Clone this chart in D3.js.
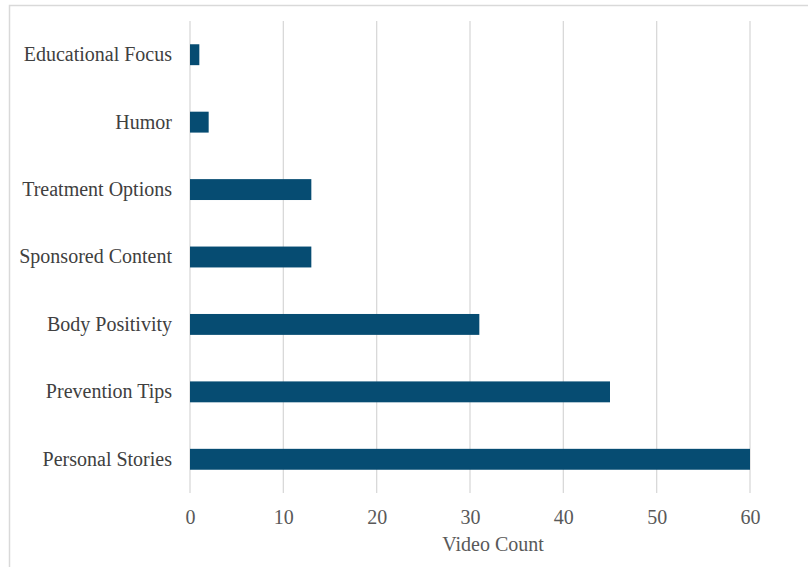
<!DOCTYPE html>
<html><head><meta charset="utf-8">
<script src="https://cdn.jsdelivr.net/npm/d3@7"></script>
<style>body{margin:0;background:#fff}svg{display:block}svg text{font-family:"Liberation Serif","Times New Roman",Times,serif}</style>
</head><body><svg id="c" width="808" height="567"></svg>
<script>
const categories = ["Educational Focus","Humor","Treatment Options","Sponsored Content","Body Positivity","Prevention Tips","Personal Stories"];
const values = [1,2,13,13,31,45,60];
const xTicks = [0,10,20,30,40,50,60];
const axisTitle = "Video Count";

const svg = d3.select("#c");
svg.append("rect").attr("x",9.5).attr("y",5.5).attr("width",820).attr("height",600)
  .attr("fill","none").attr("stroke","#d9d9d9").attr("stroke-width",1.5);

const x = d3.scaleLinear().domain([0,60]).range([190,750]);
const y = d3.scaleBand().domain(categories).range([21,493]).paddingInner(0.69).paddingOuter(0.345);

svg.append("g").selectAll("line").data(xTicks).join("line")
  .attr("x1",d=>x(d)).attr("x2",d=>x(d)).attr("y1",21).attr("y2",493)
  .attr("stroke","#d9d9d9").attr("stroke-width",1.3);

svg.append("g").selectAll("rect").data(categories).join("rect")
  .attr("x",x(0)).attr("y",d=>y(d)).attr("height",y.bandwidth())
  .attr("width",(d,i)=>x(values[i])-x(0)).attr("fill","#064c72");

const xa = svg.append("g").attr("transform","translate(0,493)")
  .call(d3.axisBottom(x).tickValues(xTicks).tickSize(0).tickPadding(17));
xa.attr("font-family",null).attr("font-size",null);
xa.select(".domain").remove();
xa.selectAll("text").style("font-size","20px").attr("fill","#595959");

const ya = svg.append("g").attr("transform","translate(190,0)")
  .call(d3.axisLeft(y).tickSize(0).tickPadding(18));
ya.attr("font-family",null).attr("font-size",null);
ya.select(".domain").remove();
ya.selectAll("text").style("font-size","20px").attr("fill","#404040");

svg.append("text").attr("x",493).attr("y",551).attr("text-anchor","middle")
  .style("font-size","20px").attr("fill","#595959").text(axisTitle);
</script></body></html>
